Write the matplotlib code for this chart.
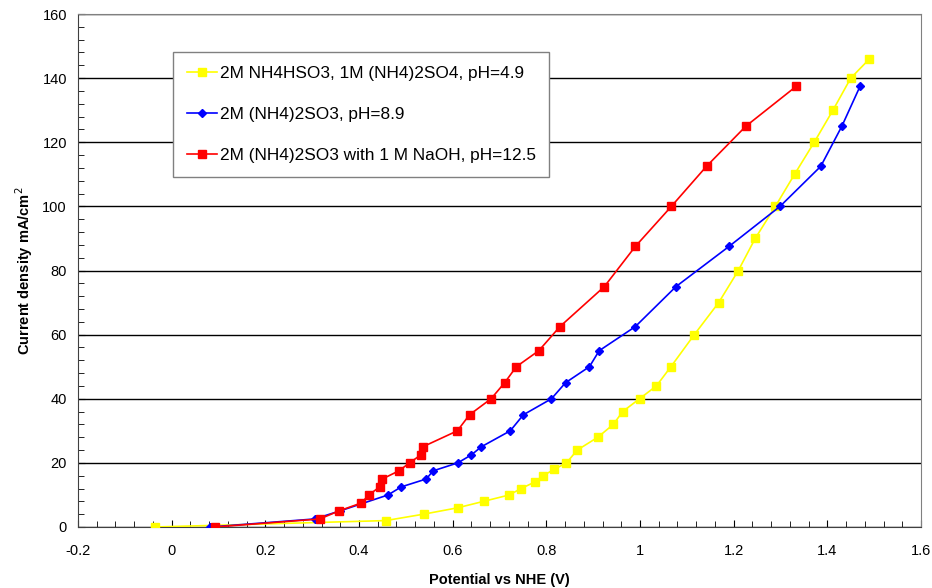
import matplotlib
matplotlib.use('Agg')
import matplotlib.pyplot as plt
from matplotlib.ticker import MultipleLocator, FuncFormatter

# data
yellow_x = [-0.036, 0.457, 0.538, 0.611, 0.666, 0.721, 0.746, 0.775, 0.793, 0.817, 0.843,
            0.866, 0.910, 0.943, 0.963, 0.999, 1.035, 1.066, 1.116, 1.168, 1.210, 1.246,
            1.289, 1.330, 1.372, 1.412, 1.450, 1.490]
yellow_y = [0, 2, 4, 6, 8, 10, 12, 14, 16, 18, 20, 24, 28, 32, 36, 40, 44, 50, 60, 70,
            80, 90, 100, 110, 120, 130, 140, 146]

blue_x = [0.082, 0.305, 0.359, 0.462, 0.490, 0.544, 0.558, 0.611, 0.640, 0.661, 0.723,
          0.751, 0.811, 0.841, 0.892, 0.913, 0.990, 1.077, 1.190, 1.299, 1.386, 1.431, 1.470]
blue_y = [0, 2.5, 5, 10, 12.5, 15, 17.5, 20, 22.5, 25, 30, 35, 40, 45, 50, 55, 62.5, 75,
          87.5, 100, 112.5, 125, 137.5]

red_x = [0.092, 0.316, 0.357, 0.405, 0.421, 0.444, 0.450, 0.485, 0.508, 0.532, 0.536,
         0.610, 0.636, 0.682, 0.711, 0.736, 0.784, 0.829, 0.924, 0.990, 1.067, 1.142,
         1.226, 1.334]
red_y = [0, 2.5, 5, 7.5, 10, 12.5, 15, 17.5, 20, 22.5, 25, 30, 35, 40, 45, 50, 55, 62.5,
         75, 87.5, 100, 112.5, 125, 137.5]

labels = ['2M NH4HSO3, 1M (NH4)2SO4, pH=4.9',
          '2M (NH4)2SO3, pH=8.9',
          '2M (NH4)2SO3 with 1 M NaOH, pH=12.5']

plt.rcParams['font.family'] = ['Liberation Sans', 'DejaVu Sans']

fig = plt.figure(figsize=(9.32, 5.88), dpi=100)
ax = fig.add_axes([78/932, 61/588, 843/932, 513/588])

ax.plot(yellow_x, yellow_y, '-s', color='#ffff00', ms=6, lw=1.2, label=labels[0], zorder=3)
ax.plot(blue_x, blue_y, '-D', color='#0000ff', ms=4.5, lw=1.2, label=labels[1], zorder=4)
ax.plot(red_x, red_y, '-s', color='#ff0000', ms=6, lw=1.2, label=labels[2], zorder=5)

ax.set_xlim(-0.2, 1.6)
ax.set_ylim(0, 160)
ax.xaxis.set_major_locator(MultipleLocator(0.2))
ax.xaxis.set_minor_locator(MultipleLocator(0.04))
ax.yaxis.set_major_locator(MultipleLocator(20))
ax.yaxis.set_minor_locator(MultipleLocator(4))
ax.xaxis.set_major_formatter(FuncFormatter(lambda v, p: ('%.1f' % v).rstrip('0').rstrip('.') if abs(v) > 1e-9 else '0'))
ax.tick_params(which='both', direction='in', labelsize=10.5, color='black')
ax.tick_params(which='major', length=5)
ax.tick_params(which='minor', length=4)
ax.tick_params(axis='x', pad=12)
ax.tick_params(axis='y', pad=8)

ax.yaxis.grid(True, color='black', lw=1)
ax.set_axisbelow(True)
for s in ['top', 'right']:
    ax.spines[s].set_color('#808080')
for s in ['left', 'bottom']:
    ax.spines[s].set_color('#404040')

ax.set_xlabel('Potential vs NHE (V)', fontsize=10.5, fontweight='bold', labelpad=11)
ax.set_ylabel('Current density mA/cm$^2$', fontsize=10.5, fontweight='bold', labelpad=5)

leg = ax.legend(loc='upper left', bbox_to_anchor=(0.1127, 0.926), borderaxespad=0,
                fontsize=12.4, frameon=True, fancybox=False, edgecolor='#808080',
                framealpha=1, handlelength=1.75, labelspacing=1.52, borderpad=0.8,
                handletextpad=0.15)
leg.get_frame().set_linewidth(1)

fig.savefig('out.png', dpi=100)
